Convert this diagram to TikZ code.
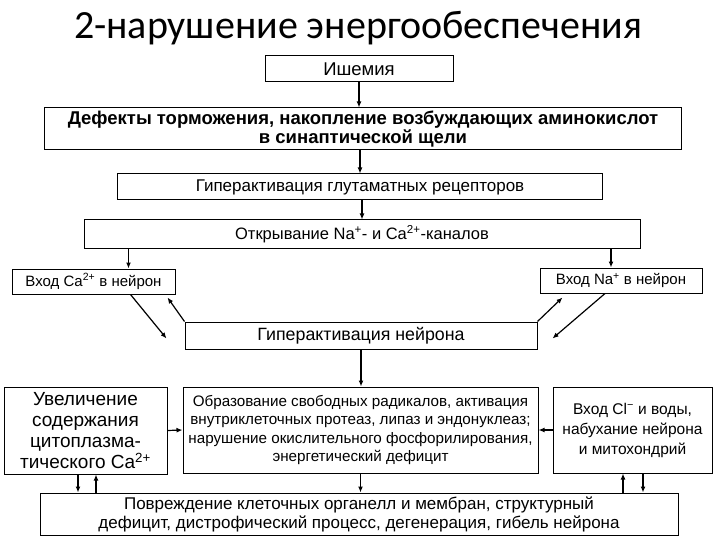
\documentclass[tikz,border=0pt]{standalone}
\usepackage{fontspec}
\setmainfont{Liberation Sans}
\newfontfamily\titlefont{Carlito}
\usetikzlibrary{arrows.meta}

\begin{document}
\begin{tikzpicture}[x=1pt,y=-1pt]
%Declaration of styles
	\tikzstyle{box} = [rectangle, draw=black, line width=1pt, align=center, inner sep=0pt, font=\fontsize{17.5}{19}\selectfont] %style for the boxes
	\tikzstyle{arr} = [draw=black, line width=1.2pt, -{Latex[length=6pt,width=5pt]}] %style for the arrows
	\useasboundingbox (0,0) rectangle (720,540);
%Title
	\node (title) [anchor=base, font=\titlefont\fontsize{40}{44}\selectfont] at (358,39) {2-нарушение энергообеспечения};
%Nodes, the boxes of the scheme
	\node (isch) [box, minimum width=188pt, minimum height=26pt, font=\fontsize{18.5}{20}\selectfont] at (359,69) {Ишемия};
	\node (defekt) [box, minimum width=637pt, minimum height=42pt, font=\fontsize{18.5}{19.5}\selectfont\bfseries] at (363,129) {Дефекты торможения, накопление возбуждающих аминокислот\\в синаптической щели};
	\node (glut) [box, minimum width=485pt, minimum height=26pt, font=\fontsize{17}{19}\selectfont] at (360,187) {Гиперактивация глутаматных рецепторов};
	\node (chan) [box, minimum width=556pt, minimum height=28pt, font=\fontsize{16.5}{19}\selectfont] at (362,234) {Открывание Na\textsuperscript{+}- и Ca\textsuperscript{2+}-каналов};
	\node (caIn) [box, minimum width=163pt, minimum height=25pt, font=\fontsize{15}{18}\selectfont] at (93.5,281.5) {Вход Ca\textsuperscript{2+} в нейрон};
	\node (naIn) [box, minimum width=162pt, minimum height=25pt, font=\fontsize{15}{18}\selectfont] at (621,280.5) {Вход Na\textsuperscript{+} в нейрон};
	\node (neuro) [box, minimum width=352pt, minimum height=27pt, font=\fontsize{17.8}{19}\selectfont] at (361,335.5) {Гиперактивация нейрона};
	\node (caCyt) [box, minimum width=163pt, minimum height=87pt, font=\fontsize{19}{21}\selectfont] at (85.5,430.5) {Увеличение\\содержания\\цитоплазма-\\тического Ca\textsuperscript{2+}};
	\node (radic) [box, minimum width=355pt, minimum height=86pt, font=\fontsize{15.2}{18.5}\selectfont] at (360.5,430) {Образование свободных радикалов, активация\\внутриклеточных протеаз, липаз и эндонуклеаз;\\нарушение окислительного фосфорилирования,\\энергетический дефицит};
	\node (clIn) [box, minimum width=159pt, minimum height=86pt, font=\fontsize{15.5}{20}\selectfont] at (632.5,430) {Вход Cl\textsuperscript{−} и воды,\\набухание нейрона\\и митохондрий};
	\node (damage) [box, minimum width=638pt, minimum height=42pt, font=\fontsize{17}{19}\selectfont] at (359,514) {Повреждение клеточных органелл и мембран, структурный\\дефицит, дистрофический процесс, дегенерация, гибель нейрона};
%Coordinates for the free ends of the arrows
	\coordinate (caTop) at ([xshift=35pt]caIn.north);
	\coordinate (naTop) at ([xshift=-10pt]naIn.north);
	\coordinate (caOut) at ([xshift=37pt]caIn.south);
	\coordinate (caTip) at ([xshift=-18pt,yshift=-3pt]neuro.west);
	\coordinate (caBack) at ([xshift=-8pt,yshift=-3pt]caIn.south east);
	\coordinate (naBack) at ([xshift=23pt,yshift=-4pt]naIn.south west);
	\coordinate (naOut) at ([xshift=-16pt]naIn.south);
	\coordinate (naTip) at ([xshift=15pt,yshift=-3pt]neuro.east);
	\coordinate (cytDown) at ([xshift=-7.5pt]caCyt.south);
	\coordinate (cytUp) at ([xshift=10.5pt]caCyt.south);
	\coordinate (clUp) at ([xshift=-9.5pt]clIn.south);
	\coordinate (clDown) at ([xshift=10.5pt]clIn.south);
%Arrows
	\draw[arr] (isch.south) -- (isch.south |- defekt.north);
	\draw[arr] (glut.north |- defekt.south) -- (glut.north);
	\draw[arr] (chan.north |- glut.south) -- (chan.north);
	\draw[arr] (chan.south -| caTop) -- (caTop);
	\draw[arr] (chan.south -| naTop) -- (naTop);
	\draw[arr] (caOut) -- (caTip);
	\draw[arr] (neuro.north west) -- (caBack);
	\draw[arr] (neuro.north east) -- (naBack);
	\draw[arr] (naOut) -- (naTip);
	\draw[arr] (neuro.south) -- (neuro.south |- radic.north);
	\draw[arr] (caCyt.east) -- (radic.west);
	\draw[arr] (clIn.west) -- (radic.east);
	\draw[arr] (cytDown) -- (cytDown |- damage.north);
	\draw[arr] (cytUp |- damage.north) -- (cytUp);
	\draw[arr] (radic.south) -- (radic.south |- damage.north);
	\draw[arr] (clUp |- damage.north) -- (clUp);
	\draw[arr] (clDown) -- (clDown |- damage.north);
\end{tikzpicture}
\end{document}
